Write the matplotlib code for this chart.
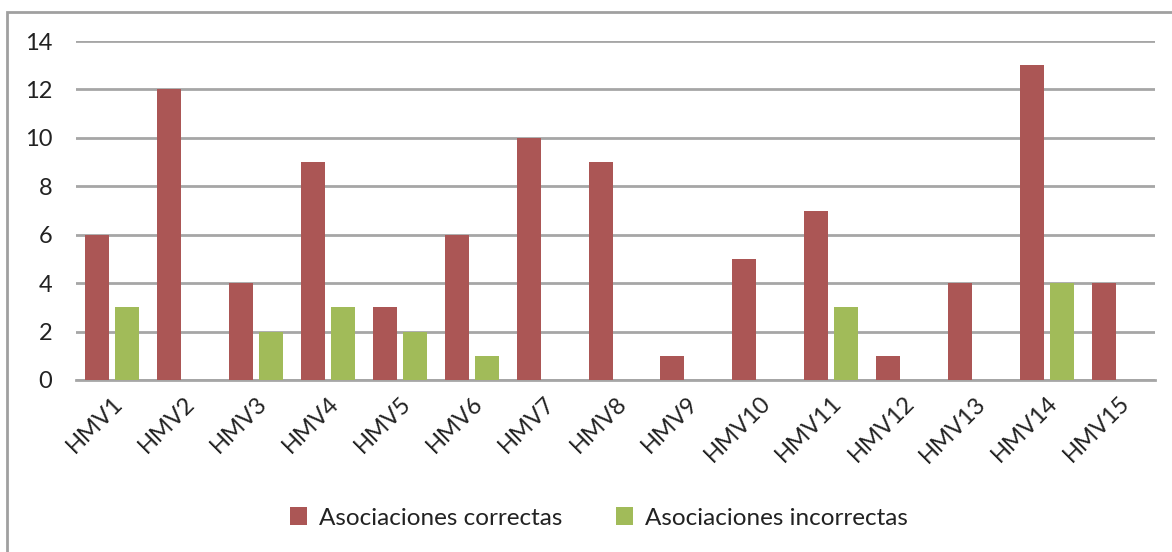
import matplotlib.pyplot as plt
import numpy as np
from matplotlib.patches import Rectangle

categories = [f"HMV{i}" for i in range(1, 16)]
correctas = [6, 12, 4, 9, 3, 6, 10, 9, 1, 5, 7, 1, 4, 13, 4]
incorrectas = [3, 0, 2, 3, 2, 1, 0, 0, 0, 0, 3, 0, 0, 4, 0]

RED = "#AB5655"
GREEN = "#A1BB59"
GRID = "#A6A6A6"

plt.rcParams["font.family"] = ["Lato", "DejaVu Sans"]

fig = plt.figure(figsize=(11.72, 5.52), dpi=100)
ax = fig.add_axes([76 / 1172, 1 - 380 / 552, (1155 - 76) / 1172, (380 - 41) / 552])

x = np.arange(len(categories))
w = 0.333
off = 0.208
ax.bar(x - off, correctas, width=w, color=RED, label="Asociaciones correctas", zorder=3)
ax.bar(x + off, incorrectas, width=w, color=GREEN, label="Asociaciones incorrectas", zorder=3)

ax.set_xlim(-0.5, len(categories) - 0.5)
ax.set_ylim(0, 14)
ax.set_yticks(range(0, 15, 2))
ax.yaxis.grid(True, color=GRID, linewidth=2, zorder=0)
ax.set_axisbelow(True)
for s in ["top", "right", "left"]:
    ax.spines[s].set_visible(False)
ax.spines["bottom"].set_color(GRID)
ax.spines["bottom"].set_linewidth(2)
ax.tick_params(axis="both", length=0, labelsize=17, colors="#222222")
ax.tick_params(axis="y", pad=17)
ax.set_xticks(x)
ax.set_xticklabels(categories, rotation=45, ha="right", rotation_mode="anchor")
ax.tick_params(axis="x", pad=9)

fig.legend(loc="center", bbox_to_anchor=(0.511, 1 - 518 / 552), ncol=2, frameon=False,
           fontsize=17.5, handlelength=0.7, handleheight=0.7, handletextpad=0.5,
           columnspacing=2.2, labelcolor="#222222")

fig.add_artist(Rectangle((7 / 1172, -0.01), 1.1, 1 - 12 / 552 + 0.01,
                         transform=fig.transFigure, fill=False,
                         edgecolor="#A0A0A0", linewidth=2))

fig.savefig("out.png", dpi=100)
